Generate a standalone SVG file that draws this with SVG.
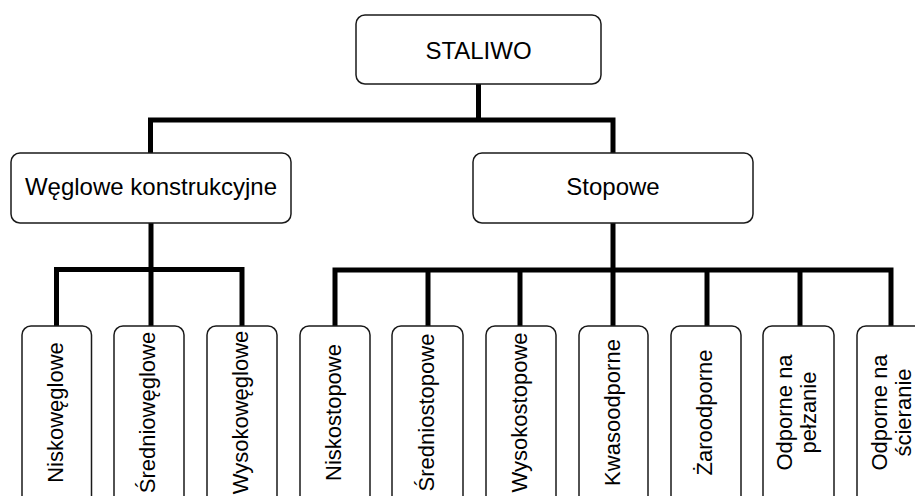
<svg xmlns="http://www.w3.org/2000/svg" width="915" height="496" viewBox="0 0 915 496">
<style>
.box{fill:#fff;stroke:#1a1a1a;stroke-width:1.5}
.t{font-family:"Liberation Sans",Arial,sans-serif;font-size:24px;fill:#000;text-anchor:middle}
.v{font-family:"Liberation Sans",Arial,sans-serif;font-size:22px;fill:#000;text-anchor:middle}
.c{fill:none;stroke:#000;stroke-width:5;stroke-linejoin:miter;stroke-linecap:butt}
</style>
<rect width="915" height="496" fill="#fff"/>
<g id="connectors">
<polyline class="c" points="478.5,84 478.5,120"/>
<polyline class="c" points="150.5,153 150.5,120 613,120 613,153"/>
<polyline class="c" points="151,223 151,269.5"/>
<polyline class="c" points="56.5,326 56.5,269.5 242,269.5 242,326"/>
<polyline class="c" points="151,269.5 151,326"/>
<polyline class="c" points="613,223 613,270"/>
<polyline class="c" points="335,326 335,270 891,270 891,326"/>
<polyline class="c" points="428,270 428,326"/>
<polyline class="c" points="520,270 520,326"/>
<polyline class="c" points="613,270 613,326"/>
<polyline class="c" points="707,270 707,326"/>
<polyline class="c" points="800,270 800,326"/>
</g>
<g id="staliwo"><rect class="box" x="356" y="15" width="245" height="69" rx="9"/><text class="t" x="478.5" y="59">STALIWO</text></g>
<g id="weglowe"><rect class="box" x="11" y="153" width="280" height="70" rx="9"/><text class="t" x="151" y="195">Węglowe konstrukcyjne</text></g>
<g id="stopowe"><rect class="box" x="473" y="153" width="280" height="70" rx="9"/><text class="t" x="613" y="195">Stopowe</text></g>
<g id="niskoweglowe"><rect class="box" x="22" y="326" width="69.5" height="180" rx="9"/><text class="v" transform="translate(62.5,412.5) rotate(-90)">Niskowęglowe</text></g>
<g id="srednioweglowe"><rect class="box" x="114" y="326" width="70" height="180" rx="9"/><text class="v" transform="translate(155,412.5) rotate(-90)">Średniowęglowe</text></g>
<g id="wysokoweglowe"><rect class="box" x="207" y="326" width="70" height="180" rx="9"/><text class="v" transform="translate(248,412.5) rotate(-90)">Wysokowęglowe</text></g>
<g id="niskostopowe"><rect class="box" x="300" y="326" width="70" height="180" rx="9"/><text class="v" transform="translate(341,412.5) rotate(-90)">Niskostopowe</text></g>
<g id="sredniostopowe"><rect class="box" x="392" y="326" width="71" height="180" rx="9"/><text class="v" transform="translate(434,412.5) rotate(-90)">Średniostopowe</text></g>
<g id="wysokostopowe"><rect class="box" x="486" y="326" width="70" height="180" rx="9"/><text class="v" transform="translate(527,412.5) rotate(-90)">Wysokostopowe</text></g>
<g id="kwasoodporne"><rect class="box" x="579" y="326" width="69" height="180" rx="9"/><text class="v" transform="translate(619.5,412.5) rotate(-90)">Kwasoodporne</text></g>
<g id="zaroodporne"><rect class="box" x="671" y="326" width="70" height="180" rx="9"/><text class="v" transform="translate(712,412.5) rotate(-90)">Żaroodporne</text></g>
<g id="pelzanie"><rect class="box" x="763" y="326" width="71" height="180" rx="9"/><text class="v" transform="translate(792,412.5) rotate(-90)">Odporne na</text><text class="v" transform="translate(816,412.5) rotate(-90)">pełzanie</text></g>
<g id="scieranie"><rect class="box" x="857" y="326" width="71" height="180" rx="9"/><text class="v" transform="translate(887,412.5) rotate(-90)">Odporne na</text><text class="v" transform="translate(911,412.5) rotate(-90)">ścieranie</text></g>
</svg>
